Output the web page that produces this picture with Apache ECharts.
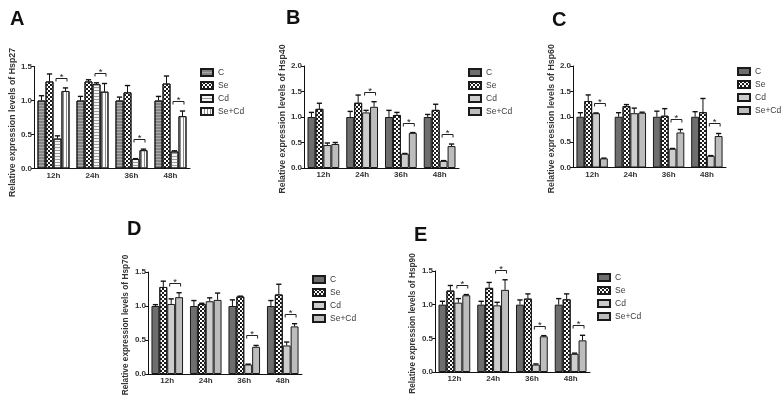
<!DOCTYPE html>
<html><head><meta charset="utf-8">
<script src="https://cdn.jsdelivr.net/npm/echarts@6/dist/echarts.min.js"></script>
<style>html,body{margin:0;padding:0;background:#fff}#c{width:784px;height:400px}</style>
</head><body><div id="c"></div>
<script>
// ---------- data ----------
const categories = ['12h', '24h', '36h', '48h'];
const groups = ['C', 'Se', 'Cd', 'Se+Cd'];
const ticks15 = [0, 0.5, 1.0, 1.5];
const ticks20 = [0, 0.5, 1.0, 1.5, 2.0];

// rows: C, Se, Cd, Se+Cd ; columns: 12h, 24h, 36h, 48h
const hsp27Mean = [[1.00,1.00,1.00,1.00],[1.28,1.28,1.12,1.25],[0.44,1.24,0.14,0.25],[1.14,1.13,0.27,0.77]];
const hsp27Err  = [[0.07,0.06,0.05,0.06],[0.11,0.025,0.10,0.11],[0.04,0.02,0.005,0.01],[0.045,0.12,0.015,0.075]];
const hsp27Sig  = [1,1,1,1];

const hsp40Mean = [[1.00,1.00,1.00,1.00],[1.16,1.28,1.04,1.14],[0.45,1.09,0.28,0.14],[0.47,1.20,0.69,0.43]];
const hsp40Err  = [[0.09,0.11,0.13,0.05],[0.11,0.15,0.05,0.11],[0.04,0.04,0.005,0.005],[0.03,0.10,0.005,0.04]];
const hsp40Sig  = [0,1,1,1];

const hsp60Mean = [[1.00,1.00,1.00,1.00],[1.31,1.21,1.02,1.09],[1.07,1.07,0.37,0.23],[0.18,1.08,0.69,0.62]];
const hsp60Err  = [[0.08,0.08,0.11,0.10],[0.12,0.03,0.14,0.27],[0.005,0.10,0.005,0.005],[0.005,0.01,0.06,0.05]];
const hsp60Sig  = [1,0,1,1];

const hsp70Mean = [[1.00,1.00,1.00,1.00],[1.28,1.03,1.14,1.17],[1.03,1.07,0.14,0.42],[1.13,1.09,0.40,0.70]];
const hsp70Err  = [[0.02,0.08,0.09,0.08],[0.085,0.01,0.005,0.15],[0.075,0.05,0.005,0.05],[0.065,0.10,0.02,0.04]];
const hsp70Sig  = [1,0,1,1];

const hsp90Mean = [[1.00,1.00,1.00,1.00],[1.21,1.25,1.09,1.08],[1.03,0.99,0.11,0.27],[1.14,1.22,0.53,0.47]];
const hsp90Err  = [[0.05,0.05,0.07,0.09],[0.075,0.08,0.07,0.08],[0.06,0.045,0.01,0.01],[0.01,0.15,0.01,0.075]];
const hsp90Sig  = [1,1,1,1];

// ---------- styling / layout ----------
const FONT = '"Liberation Sans", Arial, sans-serif';
const GAP = 0.18;

const checker = {symbol:'rect', symbolSize:1, color:'#1c1c1c', dashArrayX:[[2,2],[0,2,2,0]], dashArrayY:[2,0]};
const hLines = (c) => ({symbol:'rect', symbolSize:1, color:c, dashArrayX:[1,0], dashArrayY:[1,2]});
const vLines = (c) => ({symbol:'rect', symbolSize:1, color:c, dashArrayX:[1,2], dashArrayY:[1,0]});

const stylesA = [
  {color:'#858585', decal:hLines('rgba(255,255,255,0.3)')},
  {color:'#ffffff', decal:checker},
  {color:'#f4f4f4', decal:hLines('#9a9a9a')},
  {color:'#fbfbfb', decal:vLines('#8a8a8a')}
];
const stylesB = [
  {color:'#6e6e6e'},
  {color:'#ffffff', decal:checker},
  {color:'#cdcdcd'},
  {color:'#bdbdbd'}
];

const panels = [
  {letter:'A', gene:'Hsp27', mean:hsp27Mean, err:hsp27Err, sig:hsp27Sig, ticks:ticks15, styles:stylesA, suffix:'',
   grid:{left:34, top:66.5, width:156, height:102}, legend:{left:200, top:68}, title:{left:10, top:9}, nameGap:16.5, nameSize:8.8, nameShift:10},
  {letter:'B', gene:'Hsp40', mean:hsp40Mean, err:hsp40Err, sig:hsp40Sig, ticks:ticks20, styles:stylesB, suffix:' ',
   grid:{left:304, top:66, width:155, height:102}, legend:{left:468, top:68}, title:{left:286, top:8}, nameGap:16.5, nameSize:8.8, nameShift:4},
  {letter:'C', gene:'Hsp60', mean:hsp60Mean, err:hsp60Err, sig:hsp60Sig, ticks:ticks20, styles:stylesB, suffix:' ',
   grid:{left:573, top:66, width:153, height:101.5}, legend:{left:737, top:67}, title:{left:552, top:10}, nameGap:15.5, nameSize:8.8, nameShift:4},
  {letter:'D', gene:'Hsp70', mean:hsp70Mean, err:hsp70Err, sig:hsp70Sig, ticks:ticks15, styles:stylesB, suffix:' ',
   grid:{left:148, top:272, width:154, height:102}, legend:{left:312, top:275}, title:{left:127, top:219}, nameGap:18.5, nameSize:8.3, nameShift:4},
  {letter:'E', gene:'Hsp90', mean:hsp90Mean, err:hsp90Err, sig:hsp90Sig, ticks:ticks15, styles:stylesB, suffix:' ',
   grid:{left:435, top:271, width:155, height:101}, legend:{left:597, top:273}, title:{left:414, top:225}, nameGap:18.5, nameSize:8.3, nameShift:4}
];

function barCenter(api, cat, s) {
  const band = api.size([1, 0])[0];
  const bw = band * (1 - GAP) / 4;
  return {x: api.coord([cat, 0])[0] + (s - 1.5) * bw, bw: bw};
}

function renderErr(params, api) {
  const cat = api.value(0), s = api.value(1), v = api.value(2), e = api.value(3);
  const bc = barCenter(api, cat, s);
  const y0 = api.coord([cat, v])[1];
  const y1 = api.coord([cat, v + e])[1];
  const h = bc.bw * 0.33;
  return {type:'group', children:[
    {type:'line', shape:{x1:bc.x, y1:y0, x2:bc.x, y2:y1}, style:{stroke:'#111', lineWidth:1}},
    {type:'line', shape:{x1:bc.x - h, y1:y1, x2:bc.x + h, y2:y1}, style:{stroke:'#111', lineWidth:1.4}}
  ]};
}

function renderSig(params, api) {
  const cat = api.value(0), top = api.value(1);
  const a = barCenter(api, cat, 2), b = barCenter(api, cat, 3);
  const y = Math.round(api.coord([cat, top])[1] - 10) + 0.5;
  const x1 = a.x - 1.5, x2 = b.x + 1.5;
  return {type:'group', children:[
    {type:'polyline', shape:{points:[[x1, y + 3], [x1, y], [x2, y], [x2, y + 3]]}, style:{stroke:'#222', lineWidth:1, fill:null}},
    {type:'text', style:{text:'*', x:(x1 + x2) / 2, y:y + 4, align:'center', verticalAlign:'bottom', fontSize:9.5, fontFamily:FONT, fill:'#222'}}
  ]};
}

const option = {
  animation:false,
  backgroundColor:'#ffffff',
  title: panels.map(p => ({text:p.letter, left:p.title.left, top:p.title.top, padding:0,
    textStyle:{fontSize:20, fontWeight:'bold', color:'#111', fontFamily:FONT}})),
  legend: panels.map(p => ({
    data: groups.map(g => g + p.suffix), left:p.legend.left, top:p.legend.top, orient:'vertical', padding:0,
    itemWidth:12, itemHeight:7, itemGap:4, icon:'rect', selectedMode:false,
    formatter: n => n.trim(),
    textStyle:{fontSize:8.5, color:'#3a3a3a', fontFamily:FONT, lineHeight:8}
  })),
  grid: panels.map(p => Object.assign({containLabel:false}, p.grid)),
  xAxis: panels.map((p, i) => ({
    type:'category', gridIndex:i, data:categories,
    axisLine:{lineStyle:{color:'#111', width:1}}, axisTick:{show:false},
    axisLabel:{fontSize:8, fontWeight:'bold', color:'#333', margin:3, fontFamily:FONT}
  })),
  yAxis: panels.map((p, i) => ({
    type:'value', gridIndex:i, min:p.ticks[0], max:p.ticks[p.ticks.length - 1], interval:0.5,
    axisLine:{show:true, lineStyle:{color:'#111', width:1}},
    axisTick:{show:true, length:3, lineStyle:{color:'#111'}},
    splitLine:{show:false},
    axisLabel:{fontSize:8, fontWeight:'bold', color:'#333', margin:2, fontFamily:FONT, formatter:v => v.toFixed(1)},
    name:'Relative expression levels of ' + p.gene, nameLocation:'middle', nameGap:p.nameGap,
    nameTextStyle:{fontSize:p.nameSize, fontWeight:'bold', color:'#333', fontFamily:FONT, padding:[0, p.nameShift, 0, 0]}
  })),
  series: []
};

panels.forEach((p, i) => {
  groups.forEach((g, s) => {
    const st = p.styles[s];
    const itemStyle = {color:st.color, borderColor:'#1a1a1a', borderWidth:1};
    if (st.decal) itemStyle.decal = st.decal;
    option.series.push({
      type:'bar', name:g + p.suffix, xAxisIndex:i, yAxisIndex:i, data:p.mean[s],
      barGap:'0%', barCategoryGap:(GAP * 100) + '%', itemStyle:itemStyle, silent:true
    });
  });
  const errData = [];
  for (let s = 0; s < 4; s++) for (let c = 0; c < 4; c++) errData.push([c, s, p.mean[s][c], p.err[s][c]]);
  option.series.push({type:'custom', xAxisIndex:i, yAxisIndex:i, z:5, silent:true,
    encode:{x:0, y:2}, data:errData, renderItem:renderErr});
  const sigData = [];
  p.sig.forEach((f, c) => { if (f) sigData.push([c, Math.max(p.mean[2][c] + p.err[2][c], p.mean[3][c] + p.err[3][c])]); });
  option.series.push({type:'custom', xAxisIndex:i, yAxisIndex:i, z:6, silent:true,
    encode:{x:0, y:1}, data:sigData, renderItem:renderSig});
});

const chart = echarts.init(document.getElementById('c'), null, {renderer:'canvas'});
chart.setOption(option);
</script>
</body></html>
